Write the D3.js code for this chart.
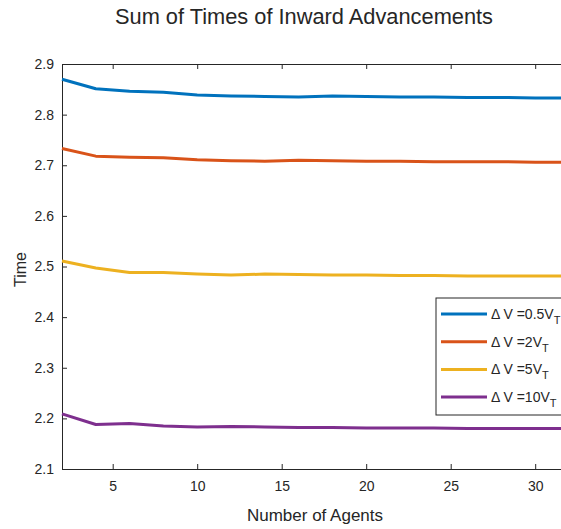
<!DOCTYPE html>
<html>
<head>
<meta charset="utf-8">
<script src="https://cdn.jsdelivr.net/npm/d3@7"></script>
<style>
  body { margin: 0; background: #fff; }
  text { font-family: "Liberation Sans", Arial, sans-serif; fill: #262626; }
</style>
</head>
<body>
<div id="chart"></div>
<script>
var svgWidth = 561;
var svgHeight = 529;

// agents on x axis
var agents = [2, 4, 6, 8, 10, 12, 14, 16, 18, 20, 22, 24, 26, 28, 30, 32];

var dv05 = [2.870, 2.851, 2.846, 2.844, 2.839, 2.837, 2.836, 2.835, 2.837, 2.836, 2.835, 2.835, 2.834, 2.834, 2.833, 2.833];
var dv2 = [2.733, 2.718, 2.716, 2.715, 2.711, 2.709, 2.708, 2.710, 2.709, 2.708, 2.708, 2.707, 2.707, 2.707, 2.706, 2.706];
var dv5 = [2.511, 2.497, 2.488, 2.488, 2.485, 2.483, 2.485, 2.484, 2.483, 2.483, 2.482, 2.482, 2.481, 2.481, 2.481, 2.481];
var dv10 = [2.209, 2.188, 2.190, 2.185, 2.183, 2.184, 2.183, 2.182, 2.182, 2.181, 2.181, 2.181, 2.180, 2.180, 2.180, 2.180];

var seriesNames = ["0.5", "2", "5", "10"];
var colors = ["#0072BD", "#D95319", "#EDB120", "#7E2F8E"];

var xTicks = [5, 10, 15, 20, 25, 30];
var yTicks = [2.1, 2.2, 2.3, 2.4, 2.5, 2.6, 2.7, 2.8, 2.9];

var margin = { top: 64, right: -8, bottom: 60, left: 62 };
var width = svgWidth - margin.left - margin.right;
var height = svgHeight - margin.top - margin.bottom;

var svg = d3.select("#chart")
  .append("svg")
  .attr("width", svgWidth)
  .attr("height", svgHeight);

var chartGroup = svg.append("g")
  .attr("transform", `translate(${margin.left}, ${margin.top})`);

var x = d3.scaleLinear().domain([2, 32]).range([0, width]);
var y = d3.scaleLinear().domain([2.1, 2.9]).range([height, 0]);

// bottom axis
var bottomAxis = d3.axisBottom(x).tickValues(xTicks).tickSizeInner(-5).tickSizeOuter(0).tickPadding(12);
chartGroup.append("g")
  .attr("transform", `translate(0, ${height})`)
  .call(bottomAxis);

// top axis, ticks only
var topAxis = d3.axisTop(x).tickValues(xTicks).tickSizeInner(-5).tickSizeOuter(0).tickFormat("");
chartGroup.append("g").call(topAxis);

// left axis
var leftAxis = d3.axisLeft(y).tickValues(yTicks).tickSizeInner(-5).tickSizeOuter(0).tickPadding(8).tickFormat(d3.format(".1f"));
chartGroup.append("g").call(leftAxis);

chartGroup.selectAll(".domain").attr("stroke", "#262626").attr("stroke-width", 1);
chartGroup.selectAll(".tick line").attr("stroke", "#262626");
chartGroup.selectAll(".tick text")
  .style("font-size", "14px")
  .attr("fill", "#262626");

// lines
var line = d3.line()
  .x((d, i) => x(agents[i]))
  .y(d => y(d));

[dv05, dv2, dv5, dv10].forEach(function(vals, i) {
  chartGroup.append("path")
    .datum(vals)
    .attr("fill", "none")
    .attr("stroke", colors[i])
    .attr("stroke-width", 3)
    .attr("stroke-linejoin", "round")
    .attr("d", line);
});

// title and labels
svg.append("text")
  .attr("x", 304)
  .attr("y", 24)
  .attr("text-anchor", "middle")
  .style("font-size", "21.8px")
  .text("Sum of Times of Inward Advancements");

svg.append("text")
  .attr("x", 315)
  .attr("y", 521)
  .attr("text-anchor", "middle")
  .style("font-size", "17px")
  .text("Number of Agents");

svg.append("text")
  .attr("transform", `translate(26, ${margin.top + height / 2 + 3}) rotate(-90)`)
  .attr("text-anchor", "middle")
  .style("font-size", "16px")
  .text("Time");

// legend
var legend = svg.append("g").attr("transform", "translate(436, 298)");
legend.append("rect")
  .attr("width", 140)
  .attr("height", 117)
  .attr("fill", "#fff")
  .attr("stroke", "#262626")
  .attr("stroke-width", 1);

seriesNames.forEach(function(name, i) {
  var ly = 16 + i * 27.7;
  legend.append("line")
    .attr("x1", 5).attr("x2", 51)
    .attr("y1", ly).attr("y2", ly)
    .attr("stroke", colors[i])
    .attr("stroke-width", 3);
  var t = legend.append("text")
    .attr("x", 55)
    .attr("y", ly + 5)
    .style("font-size", "14px");
  t.append("tspan").text("\u0394 V =" + name + "V");
  t.append("tspan").attr("dy", 5).style("font-size", "11px").text("T");
});
</script>
</body>
</html>
